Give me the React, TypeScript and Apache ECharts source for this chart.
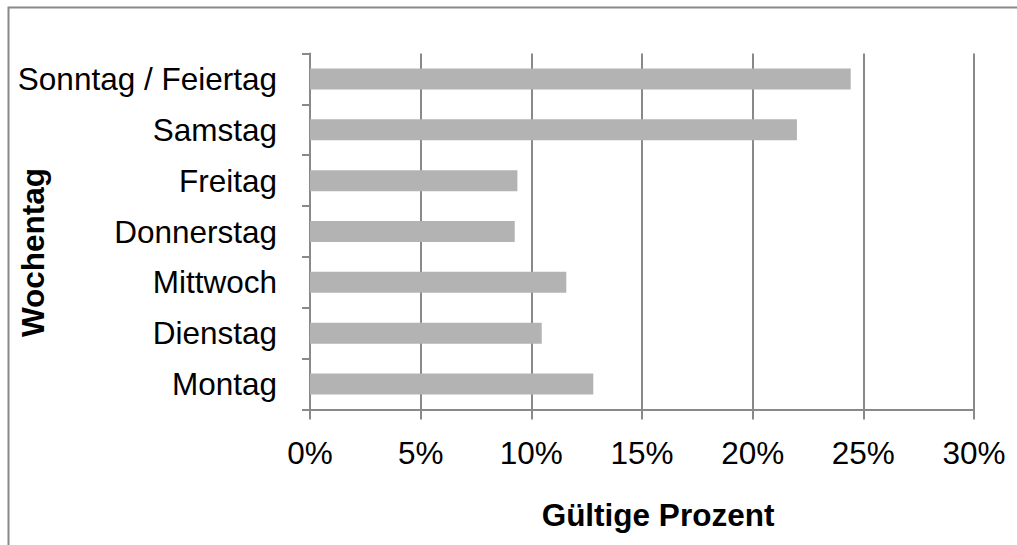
import React, { useEffect, useRef } from "react";
import * as echarts from "echarts";

const categories = ["Montag", "Dienstag", "Mittwoch", "Donnerstag", "Freitag", "Samstag", "Sonntag / Feiertag"];
const percentValues = [12.8, 10.47, 11.58, 9.25, 9.37, 22.0, 24.43];
const xTicks = { min: 0, max: 30, interval: 5 };
const xTitle = "Gültige Prozent";
const yTitle = "Wochentag";

const FONT = "'Liberation Sans', Arial, sans-serif";
const LINE = "#898989";
const FS = 31.5;

export default function App() {
  const ref = useRef<HTMLDivElement>(null);
  useEffect(() => {
    if (!ref.current) return;
    const chart = echarts.init(ref.current, null, { renderer: "svg" });
    chart.setOption({
      animation: false,
      backgroundColor: "#ffffff",
      grid: { left: 310, top: 53.5, width: 664, height: 356, containLabel: false },
      xAxis: {
        type: "value",
        min: xTicks.min,
        max: xTicks.max,
        interval: xTicks.interval,
        axisLine: { show: true, lineStyle: { color: LINE, width: 2 } },
        axisTick: { show: true, length: 10, lineStyle: { color: LINE, width: 2 } },
        splitLine: { show: true, lineStyle: { color: LINE, width: 2 } },
        axisLabel: {
          formatter: "{value}%",
          color: "#000",
          fontSize: FS,
          fontFamily: FONT,
          margin: 27,
        },
      },
      yAxis: {
        type: "category",
        data: categories,
        axisLine: { show: true, lineStyle: { color: LINE, width: 2 } },
        axisTick: { show: true, length: 8, lineStyle: { color: LINE, width: 2 } },
        splitLine: { show: false },
        axisLabel: {
          color: "#000",
          fontSize: FS,
          fontFamily: FONT,
          margin: 33,
        },
      },
      series: [
        {
          type: "bar",
          data: percentValues,
          barWidth: 21,
          itemStyle: { color: "#b3b3b3" },
        },
      ],
      graphic: [
        {
          type: "rect",
          shape: { x: 8.5, y: 7.5, width: 1200, height: 700 },
          style: { fill: "none", stroke: LINE, lineWidth: 2 },
          silent: true,
        },
        {
          type: "text",
          x: 658,
          y: 515,
          style: {
            text: xTitle,
            fontSize: FS,
            fontWeight: "bold",
            fontFamily: FONT,
            fill: "#000",
            align: "center",
            verticalAlign: "middle",
          },
        },
        {
          type: "text",
          x: 33,
          y: 252.5,
          rotation: Math.PI / 2,
          style: {
            text: yTitle,
            fontSize: FS,
            fontWeight: "bold",
            fontFamily: FONT,
            fill: "#000",
            align: "center",
            verticalAlign: "middle",
          },
        },
      ],
    });
    return () => chart.dispose();
  }, []);
  return (
    <div
      ref={ref}
      style={{ position: "absolute", left: 0, top: 0, width: 1017, height: 545 }}
    />
  );
}
